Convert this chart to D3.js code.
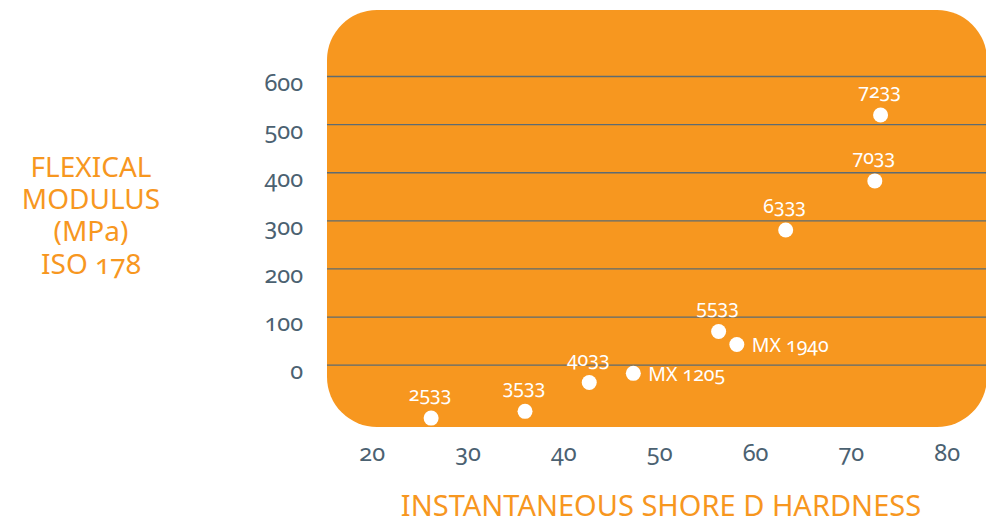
<!DOCTYPE html>
<html>
<head>
<meta charset="utf-8">
<script src="https://cdn.jsdelivr.net/npm/d3@7"></script>
<style>
  html, body { margin: 0; padding: 0; background: #fff; }
  svg { display: block; font-family: "Noto Sans", "Open Sans", sans-serif; font-variant-numeric: oldstyle-nums; font-feature-settings: "onum" 1; }
</style>
</head>
<body>
<script>
// data
const grades   = ["2533", "3533", "4033", "MX 1205", "5533", "MX 1940", "6333", "7033", "7233"];
const hardness = [26.2, 36, 42.7, 47.3, 56.2, 58.1, 63.2, 72.5, 73.1];
const modulus  = [-111, -97, -37, -18, 69, 42, 280, 382, 519];
const sideLabels = ["MX 1205", "MX 1940"];   // these carry their name on the right
const xTicks = [20, 30, 40, 50, 60, 70, 80];
const yTicks = [0, 100, 200, 300, 400, 500, 600];
const yTitle = ["FLEXICAL", "MODULUS", "(MPa)", "ISO 178"];
const xTitle = "INSTANTANEOUS SHORE D HARDNESS";

const WIDTH = 986, HEIGHT = 520;
const ORANGE = "#f7971f", SLATE = "#4b6171";

const svg = d3.select("body").append("svg")
  .attr("width", WIDTH).attr("height", HEIGHT);

const x = d3.scaleLinear().domain([20, 80]).range([371.7, 946.7]);
const y = d3.scaleLinear().domain([0, 600]).range([364.7, 76]);

// orange panel
const panel = { x0: 327, x1: 987, y0: 10, y1: 427 };
svg.append("rect")
  .attr("x", panel.x0).attr("y", panel.y0)
  .attr("width", panel.x1 - panel.x0).attr("height", panel.y1 - panel.y0)
  .attr("rx", 50).attr("ry", 50)
  .attr("fill", ORANGE);

// y axis : gridlines + labels
const yAxis = svg.append("g")
  .attr("transform", `translate(${panel.x0},0)`)
  .call(d3.axisLeft(y).tickValues(yTicks).tickSize(-(panel.x1 - panel.x0)).tickPadding(24))
  .attr("font-family", null).attr("font-size", 23.5);
yAxis.select(".domain").remove();
yAxis.selectAll(".tick line").attr("stroke", "#5d6b72").attr("stroke-width", 1.3);
yAxis.selectAll(".tick text")
  .attr("fill", SLATE)
  .attr("dy", 14);

// x axis : labels only
const xAxis = svg.append("g")
  .attr("transform", "translate(0,442)")
  .call(d3.axisBottom(x).tickValues(xTicks).tickSize(0).tickPadding(0))
  .attr("font-family", null).attr("font-size", 23.5);
xAxis.select(".domain").remove();
xAxis.selectAll(".tick text")
  .attr("fill", SLATE)
  .attr("dy", 19);

// points
const pts = grades.map((g, i) => ({ name: g, h: hardness[i], m: modulus[i] }));

svg.selectAll("circle.pt")
  .data(pts).enter().append("circle")
  .attr("class", "pt")
  .attr("cx", d => x(d.h)).attr("cy", d => y(d.m))
  .attr("r", 7.5).attr("fill", "#fff");

svg.selectAll("text.lbl")
  .data(pts).enter().append("text")
  .attr("class", "lbl")
  .attr("fill", "#fff").attr("font-size", 19.5)
  .attr("x", d => sideLabels.includes(d.name) ? x(d.h) + 15 : x(d.h) - 1)
  .attr("y", d => sideLabels.includes(d.name) ? y(d.m) + 7.5 : y(d.m) - 17)
  .attr("text-anchor", d => sideLabels.includes(d.name) ? "start" : "middle")
  .text(d => d.name);

// titles
svg.append("text")
  .attr("x", 91).attr("y", 177)
  .attr("text-anchor", "middle").attr("fill", ORANGE).attr("font-size", 28)
  .selectAll("tspan").data(yTitle).enter().append("tspan")
  .attr("x", 91).attr("dy", (d, i) => i ? 32.2 : 0)
  .text(d => d);

svg.append("text")
  .attr("x", 661).attr("y", 516)
  .attr("text-anchor", "middle").attr("fill", ORANGE).attr("font-size", 29)
  .text(xTitle);
</script>
</body>
</html>
